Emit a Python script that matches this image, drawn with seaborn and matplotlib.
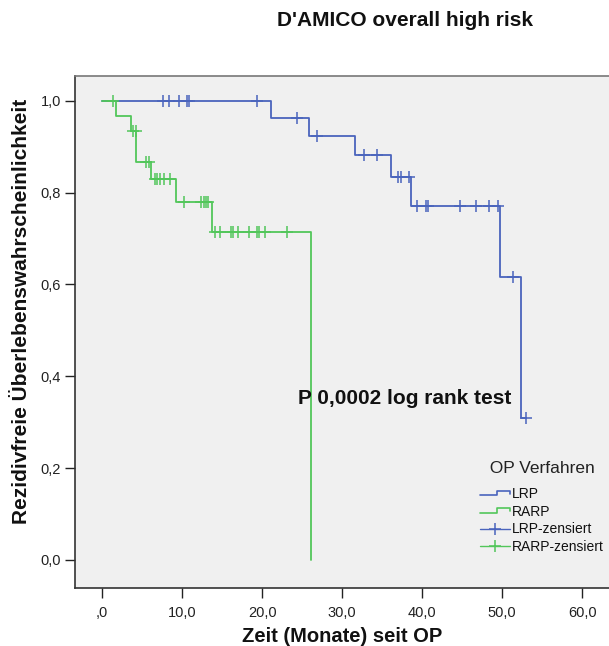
import numpy as np
import pandas as pd
import matplotlib
matplotlib.use("Agg")
import matplotlib.pyplot as plt
from matplotlib.lines import Line2D
from matplotlib.legend_handler import HandlerBase
import seaborn as sns

# ---- data ----
lrp_times = [0.0, 21.1, 25.8, 31.6, 36.1, 38.6, 49.75, 52.3]
lrp_surv = [1.0, 0.962, 0.924, 0.882, 0.835, 0.771, 0.617, 0.309]
lrp_end = 53.0
lrp_censor = [7.6, 8.4, 9.6, 10.6, 10.8, 19.3, 24.3, 26.8, 32.7, 34.3, 37.0, 37.3,
              38.3, 39.3, 40.5, 40.7, 44.75, 46.7, 48.4, 49.5, 51.4, 53.0]

rarp_times = [0.0, 1.7, 3.6, 4.25, 6.1, 9.2, 13.75, 26.1]
rarp_surv = [1.0, 0.967, 0.935, 0.867, 0.829, 0.779, 0.714, 0.0]
rarp_end = 26.1
rarp_censor = [1.4, 3.9, 4.2, 5.5, 5.9, 6.6, 6.8, 7.25, 7.75, 8.5, 10.25, 12.4, 12.7,
               13.0, 13.2, 14.1, 14.75, 16.1, 16.3, 17.0, 18.3, 19.4, 19.6, 20.4, 23.1]

xticks = [0, 10, 20, 30, 40, 50, 60]
xticklabels = [",0", "10,0", "20,0", "30,0", "40,0", "50,0", "60,0"]
yticks = [0.0, 0.2, 0.4, 0.6, 0.8, 1.0]
yticklabels = ["0,0", "0,2", "0,4", "0,6", "0,8", "1,0"]

BLUE = "#4a64bd"
GREEN = "#52c65a"

sns.set_theme(style="white")
plt.rcParams["font.family"] = ["Liberation Sans", "DejaVu Sans"]


def step_frame(times, surv, end):
    t = list(times) + [end]
    s = list(surv) + [surv[-1]]
    return pd.DataFrame({"t": t, "s": s})


def censor_frame(times, surv, ctimes):
    idx = np.searchsorted(np.array(times), np.array(ctimes), side="right") - 1
    return pd.DataFrame({"t": ctimes, "s": np.array(surv)[idx]})


fig = plt.figure(figsize=(6.09, 6.46), dpi=100)
ax = fig.add_axes([75 / 609, 58 / 646, 534 / 609, 512 / 646])
ax.set_facecolor("#f0f0f0")

lrp_df = step_frame(lrp_times, lrp_surv, lrp_end)
rarp_df = step_frame(rarp_times, rarp_surv, rarp_end)

sns.lineplot(data=lrp_df, x="t", y="s", ax=ax, color=BLUE, lw=1.3,
             drawstyle="steps-post", estimator=None, sort=False)
sns.lineplot(data=rarp_df, x="t", y="s", ax=ax, color=GREEN, lw=1.3,
             drawstyle="steps-post", estimator=None, sort=False)

lc = censor_frame(lrp_times, lrp_surv, lrp_censor)
rc = censor_frame(rarp_times, rarp_surv, rarp_censor)
ax.plot(lc["t"], lc["s"], ls="none", marker="+", ms=8, mew=1.1, color=BLUE)
ax.plot(rc["t"], rc["s"], ls="none", marker="+", ms=8, mew=1.1, color=GREEN)

ax.set_xlim(-3.4, 63.35)
ax.set_ylim(-0.061, 1.054)
ax.set_xticks(xticks)
ax.set_xticklabels(xticklabels)
ax.set_yticks(yticks)
ax.set_yticklabels(yticklabels)
ax.tick_params(axis="both", which="both", direction="out", length=7, width=1,
               color="#222222", labelsize=10.5, labelcolor="#222222", pad=3,
               bottom=True, left=True)
ax.tick_params(axis="x", pad=6)
ax.set_xlabel("")
ax.set_ylabel("")
for side in ["left", "bottom"]:
    ax.spines[side].set_color("#333333")
    ax.spines[side].set_linewidth(1.2)
ax.spines["top"].set_color("#777777")
ax.spines["top"].set_linewidth(1.2)
ax.spines["right"].set_visible(False)

ax.text(24.5, 0.352, "P 0,0002 log rank test", fontsize=15, fontweight="bold",
        va="center", ha="left", color="#111111")

fig.text(405 / 609, 1 - 20 / 646, "D'AMICO overall high risk", fontsize=15,
         fontweight="bold", ha="center", va="center", color="#111111")
fig.text(342 / 609, 1 - 636 / 646, "Zeit (Monate) seit OP", fontsize=14.5,
         fontweight="bold", ha="center", va="center", color="#111111")
fig.text(22 / 609, 1 - 311 / 646, "Rezidivfreie Überlebenswahrscheinlichkeit",
         fontsize=15, fontweight="bold", ha="center", va="center",
         rotation=90, color="#111111")


class StepHandler(HandlerBase):
    def create_artists(self, legend, orig_handle, xdescent, ydescent, width,
                       height, fontsize, trans):
        x0 = -xdescent
        y0 = -ydescent
        xs = [x0, x0 + width * 0.55, x0 + width * 0.55, x0 + width, x0 + width]
        ys = [y0 + height * 0.25, y0 + height * 0.25, y0 + height * 0.75,
              y0 + height * 0.75, y0 + height * 0.45]
        ln = Line2D(xs, ys, color=orig_handle.get_color(), lw=1.2)
        ln.set_transform(trans)
        return [ln]


h_lrp = Line2D([], [], color=BLUE)
h_rarp = Line2D([], [], color=GREEN)
h_lc = Line2D([], [], color=BLUE, marker="+", ms=9, mew=1.1, lw=1.0)
h_rc = Line2D([], [], color=GREEN, marker="+", ms=9, mew=1.1, lw=1.0)

leg = ax.legend([h_lrp, h_rarp, h_lc, h_rc],
                ["LRP", "RARP", "LRP-zensiert", "RARP-zensiert"],
                handler_map={h_lrp: StepHandler(), h_rarp: StepHandler()},
                title="  OP Verfahren", loc="upper left",
                bbox_to_anchor=((477 - 75) / 534, (588 - 458) / 512),
                borderaxespad=0,
                frameon=False, fontsize=10, title_fontsize=12.5,
                handlelength=2.2, handletextpad=0.1, labelspacing=0.27,
                borderpad=0.2)
leg._legend_box.align = "left"
leg._legend_box.sep = 8
leg.get_title().set_color("#222222")
for t in leg.get_texts():
    t.set_color("#111111")

fig.savefig("out.png", dpi=100, facecolor="white")
